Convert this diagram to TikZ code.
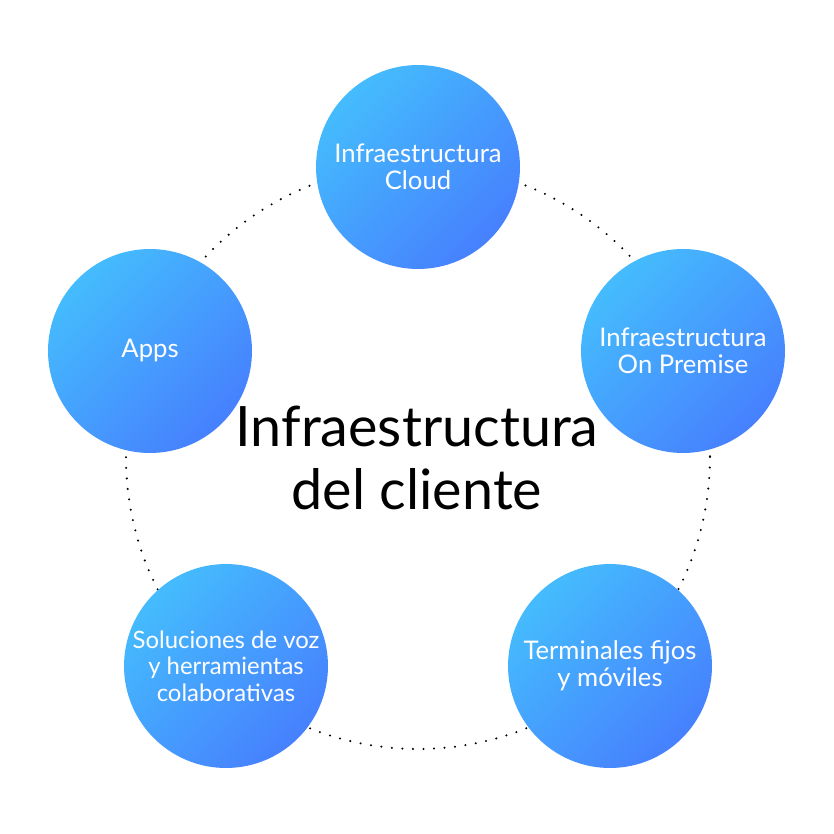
\documentclass[tikz,border=0pt]{standalone}
\usepackage{fontspec}
\setmainfont{Lato}
\usepackage{tikz}

\definecolor{skyblue}{HTML}{45BCFD}
\definecolor{deepblue}{HTML}{4680FE}

\begin{document}
\begin{tikzpicture}[x=0.02cm,y=-0.02cm,
        bubble/.style={circle,minimum size=4.08cm,inner sep=-20pt,
            top color=skyblue,bottom color=deepblue,shading angle=45,
            text=white,align=center,font=\fontsize{14.6}{15.4}\selectfont},
        dotline/.style={line width=1.3pt,line cap=round,dash pattern=on 0pt off 6pt}]
            \useasboundingbox (0,0) rectangle (834,834);
            \coordinate (hub) at (418,457);
            \draw[dotline] (hub) circle [radius=292];
            \node[bubble] (cloud) at (418,167) {Infraestructura\\Cloud};
            \node[bubble] (premise) at (683,351) {Infraestructura\\On Premise};
            \node[bubble] (apps) at (150,351) {Apps};
            \node[bubble,font=\fontsize{13.6}{15.2}\selectfont] (voice) at (226,666) {Soluciones de voz\\y herramientas\\colaborativas};
            \node[bubble] (terminals) at (610,666) {Terminales fijos\\y móviles};
            \node[align=center,font=\fontsize{31.7}{35.7}\selectfont] (title) at (417,458) {Infraestructura\\del cliente};
        \end{tikzpicture}
\end{document}
